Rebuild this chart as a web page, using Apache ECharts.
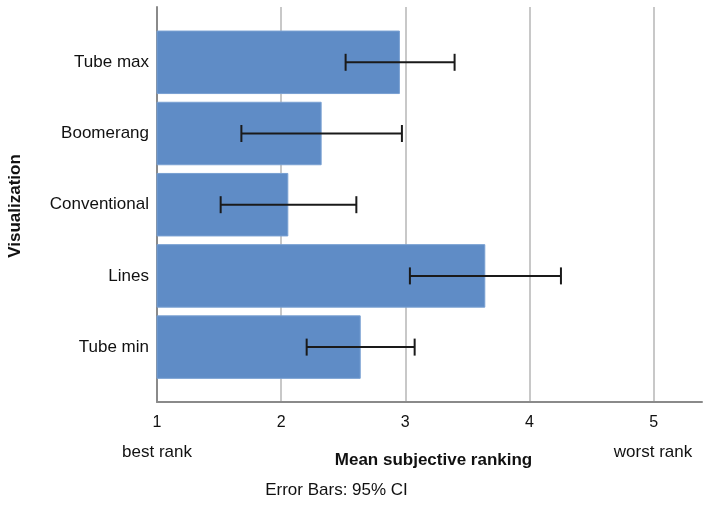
<!DOCTYPE html>
<html><head><meta charset="utf-8">
<script src="https://cdn.jsdelivr.net/npm/echarts@6/dist/echarts.min.js"></script>
<style>html,body{margin:0;padding:0;background:#fff}#c{width:705px;height:510px}</style>
</head><body><div id="c"></div>
<script>
const categories = ['Tube max', 'Boomerang', 'Conventional', 'Lines', 'Tube min'];
const meanRank = [2.946, 2.319, 2.052, 3.630, 2.632];
const ciLow = [2.511, 1.676, 1.510, 3.026, 2.199];
const ciHigh = [3.384, 2.962, 2.597, 4.236, 3.064];
const xTicks = [1, 2, 3, 4, 5];

const FONT = "'Liberation Sans',Arial,sans-serif";
const chart = echarts.init(document.getElementById('c'), null, {renderer: 'canvas'});
const xMin = 1, xMax = 5.39;
const errData = categories.map((c, i) => [ciLow[i], ciHigh[i], i]);

chart.setOption({
  animation: false,
  textStyle: {fontFamily: FONT},
  grid: [
    {left: 157, right: 0, top: 7, height: 395, containLabel: false},
    {left: 157, right: 0, top: 26.7, height: 356, containLabel: false}
  ],
  xAxis: [
    {gridIndex: 0, type: 'value', min: xMin, max: xMax, interval: 1,
     axisLine: {show: true, lineStyle: {color: '#8a8a8a', width: 2}},
     axisTick: {show: false},
     splitLine: {show: true, showMinLine: false, showMaxLine: false, lineStyle: {color: '#c8c8c8', width: 2}},
     axisLabel: {color: '#111', fontSize: 16, fontFamily: FONT, margin: 13,
       formatter: v => (xTicks.indexOf(v) >= 0 ? String(v) : '')}},
    {gridIndex: 1, type: 'value', min: xMin, max: xMax, show: false}
  ],
  yAxis: [
    {gridIndex: 0, type: 'value', min: 0, max: 1,
     axisLine: {show: true, lineStyle: {color: '#8a8a8a', width: 2}},
     axisTick: {show: false}, axisLabel: {show: false}, splitLine: {show: false}},
    {gridIndex: 1, type: 'category', data: categories, inverse: true,
     axisLine: {show: false}, axisTick: {show: false}, splitLine: {show: false},
     axisLabel: {color: '#111', fontSize: 17, fontFamily: FONT, margin: 8}}
  ],
  series: [
    {type: 'bar', xAxisIndex: 1, yAxisIndex: 1, data: meanRank, barWidth: 63.5,
     itemStyle: {color: '#5f8cc6', borderColor: '#79a0d2', borderWidth: 1}},
    {type: 'custom', xAxisIndex: 1, yAxisIndex: 1, data: errData, z: 10,
     encode: {x: [0, 1], y: 2},
     renderItem: function (params, api) {
       const lo = api.coord([api.value(0), api.value(2)]);
       const hi = api.coord([api.value(1), api.value(2)]);
       const h = 8.5;
       const st = {stroke: '#1a1a1a', lineWidth: 2};
       return {type: 'group', children: [
         {type: 'line', shape: {x1: lo[0], y1: lo[1], x2: hi[0], y2: hi[1]}, style: st},
         {type: 'line', shape: {x1: lo[0], y1: lo[1] - h, x2: lo[0], y2: lo[1] + h}, style: st},
         {type: 'line', shape: {x1: hi[0], y1: hi[1] - h, x2: hi[0], y2: hi[1] + h}, style: st}
       ]};
     }}
  ],
  graphic: [
    {type: 'text', x: 15, y: 206, rotation: Math.PI / 2,
     style: {text: 'Visualization', font: "bold 17px " + FONT, fill: '#111', textAlign: 'center', textVerticalAlign: 'middle'}},
    {type: 'text', x: 157, y: 452, style: {text: 'best rank', font: "17px " + FONT, fill: '#111', textAlign: 'center', textVerticalAlign: 'middle'}},
    {type: 'text', x: 653, y: 452, style: {text: 'worst rank', font: "17px " + FONT, fill: '#111', textAlign: 'center', textVerticalAlign: 'middle'}},
    {type: 'text', x: 433.5, y: 460, style: {text: 'Mean subjective ranking', font: "bold 17px " + FONT, fill: '#111', textAlign: 'center', textVerticalAlign: 'middle'}},
    {type: 'text', x: 336.5, y: 490, style: {text: 'Error Bars: 95% CI', font: "17px " + FONT, fill: '#111', textAlign: 'center', textVerticalAlign: 'middle'}}
  ]
});
</script></body></html>
